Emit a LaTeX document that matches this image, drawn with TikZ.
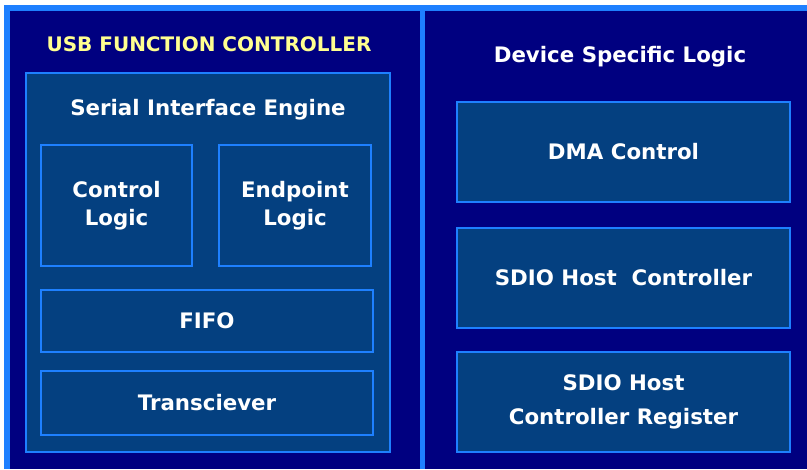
\documentclass[tikz,border=0pt]{standalone}
\usepackage{fontspec}
\setmainfont{DejaVu Sans}
\definecolor{navy}{HTML}{000080}
\definecolor{inner}{HTML}{044080}
\definecolor{edge}{HTML}{1E80FF}
\definecolor{ylw}{HTML}{FFFF90}
\begin{document}
\begin{tikzpicture}[x=0.75pt,y=-0.75pt,
  box/.style 2 args={draw=edge, line width=1.5pt, fill=inner, inner sep=0pt,
    minimum width={#1*0.75pt}, minimum height={#2*0.75pt}, text=white,
    font=\fontsize{16}{19}\selectfont\bfseries, align=center},
  label/.style={text=white, font=\fontsize{16}{19}\selectfont\bfseries}]
\useasboundingbox (0,0) rectangle (807,469);
\fill[white] (0,0) rectangle (807,469);
\fill[edge] (4,5) rectangle (807,469);
\fill[navy] (10,11) rectangle (807,469);
\fill[edge] (420,5) rectangle (425,469);
\node[text=ylw, font=\fontsize{15}{18}\selectfont\bfseries] (usb) at (209,44) {USB FUNCTION CONTROLLER};
\node[label] (dsl) at (620,57) {Device Specific Logic};
\node[box={364}{379}] (sie) at (208,262.5) {};
\node[label] (siet) at (208,110) {Serial Interface Engine};
\node[box={151}{121}, font=\fontsize{16}{21}\selectfont\bfseries] (ctl) at (116.5,205.5) {Control\\Logic};
\node[box={152}{121}, font=\fontsize{16}{21}\selectfont\bfseries] (ep) at (295,205.5) {Endpoint\\Logic};
\node[box={332}{62}] (fifo) at (207,321) {FIFO};
\node[box={332}{64}] (tr) at (207,403) {Transciever};
\node[box={333}{100}] (dma) at (623.5,152) {DMA Control};
\node[box={333}{100}] (sdio) at (623.5,278) {SDIO Host\ \ Controller};
\node[box={333}{100}, font=\fontsize{16}{25}\selectfont\bfseries] (reg) at (623.5,402) {SDIO Host\\Controller Register};
\end{tikzpicture}
\end{document}
